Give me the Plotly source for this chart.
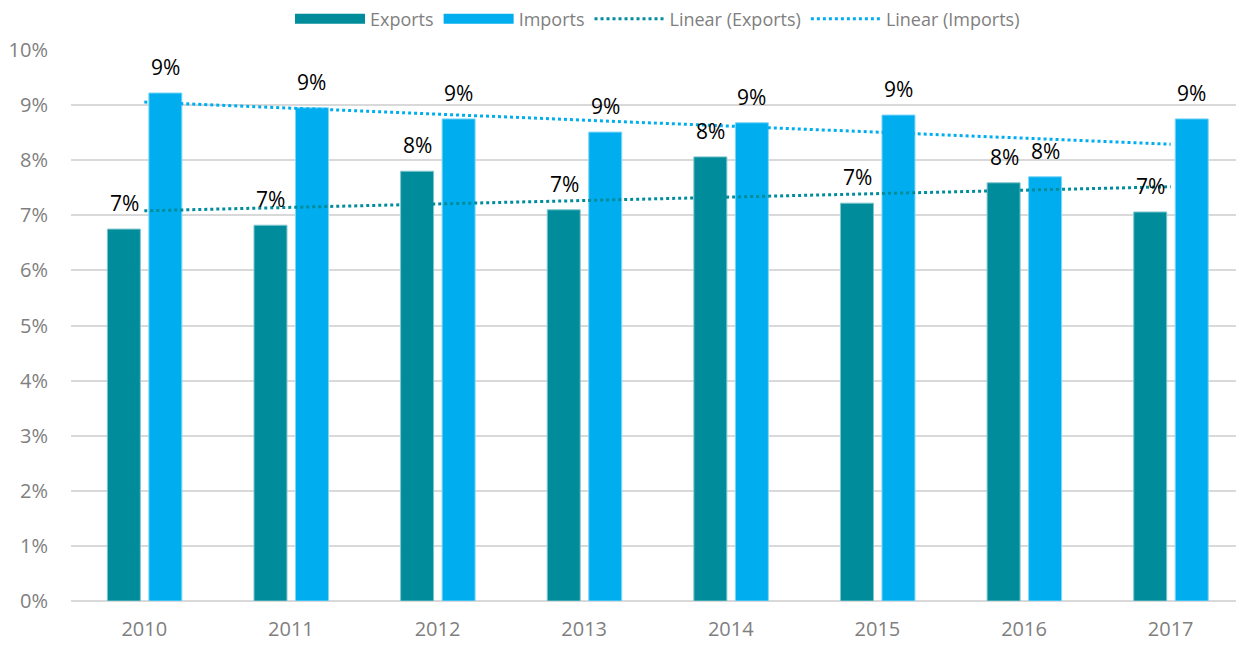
import plotly.graph_objects as go
import numpy as np

years = ["2010", "2011", "2012", "2013", "2014", "2015", "2016", "2017"]
exports = [6.75, 6.82, 7.80, 7.10, 8.06, 7.22, 7.59, 7.06]
imports = [9.22, 8.95, 8.75, 8.51, 8.68, 8.82, 7.70, 8.75]
ytick_vals = [0, 1, 2, 3, 4, 5, 6, 7, 8, 9, 10]
ytick_text = [f"{v}%" for v in ytick_vals]

EXP_COLOR = "#008C9A"
IMP_COLOR = "#00AEEF"
FONT = "Open Sans"


def linear_trend(vals):
    x = np.arange(len(vals))
    m, b = np.polyfit(x, vals, 1)
    return [float(v) for v in (m * x + b)]


exp_trend = linear_trend(exports)
imp_trend = linear_trend(imports)

fig = go.Figure()
fig.add_trace(go.Bar(
    x=years, y=exports, name="Exports", showlegend=False,
    marker=dict(color=EXP_COLOR, line=dict(color="#7FC6CD", width=1)),
    width=0.225, offset=-0.252,
))
fig.add_trace(go.Bar(
    x=years, y=imports, name="Imports", showlegend=False,
    marker=dict(color=IMP_COLOR, line=dict(color="#80D6F7", width=1)),
    width=0.225, offset=0.031,
))
# legend-only entries that show a wide swatch for the bar series
fig.add_trace(go.Scatter(
    x=[None], y=[None], name="Exports", mode="lines",
    line=dict(color=EXP_COLOR, width=12),
))
fig.add_trace(go.Scatter(
    x=[None], y=[None], name="Imports", mode="lines",
    line=dict(color=IMP_COLOR, width=12),
))
fig.add_trace(go.Scatter(
    x=years, y=exp_trend, name="Linear (Exports)", mode="lines",
    line=dict(color=EXP_COLOR, width=3, dash="dot"),
))
fig.add_trace(go.Scatter(
    x=years, y=imp_trend, name="Linear (Imports)", mode="lines",
    line=dict(color=IMP_COLOR, width=3, dash="dot"),
))

annotations = []
for i, (ev, iv) in enumerate(zip(exports, imports)):
    annotations.append(dict(x=i, y=ev, xref="x", yref="y", text=f"{round(ev):d}%",
                            showarrow=False, xshift=-20, yshift=26, yanchor="middle",
                            font=dict(family=FONT, size=21, color="#000000")))
    annotations.append(dict(x=i, y=iv, xref="x", yref="y", text=f"{round(iv):d}%",
                            showarrow=False, xshift=21, yshift=26, yanchor="middle",
                            font=dict(family=FONT, size=21, color="#000000")))

fig.update_layout(
    width=1236, height=638,
    margin=dict(l=63, r=0, t=42, b=45, autoexpand=False),
    paper_bgcolor="white", plot_bgcolor="white",
    font=dict(family=FONT, color="#7F7F7F"),
    showlegend=True,
    legend=dict(orientation="h", x=0.5, xanchor="center", y=1.056, yanchor="middle",
                font=dict(size=18, color="#7F7F7F"), itemwidth=70,
                tracegroupgap=0),
    annotations=annotations,
    xaxis=dict(type="category", range=[-0.5, 7.5], showgrid=False, showline=False,
               ticks="", ticklabelstandoff=14,
               tickfont=dict(size=20, color="#7F7F7F")),
    yaxis=dict(range=[0, 10], tickvals=ytick_vals, ticktext=ytick_text,
               showgrid=True, gridcolor="#D9D9D9", gridwidth=2,
               zeroline=True, zerolinecolor="#D9D9D9", zerolinewidth=2,
               showline=False, ticks="", ticklabelstandoff=22,
               tickfont=dict(size=20, color="#7F7F7F")),
)

fig.write_html("out.html")
